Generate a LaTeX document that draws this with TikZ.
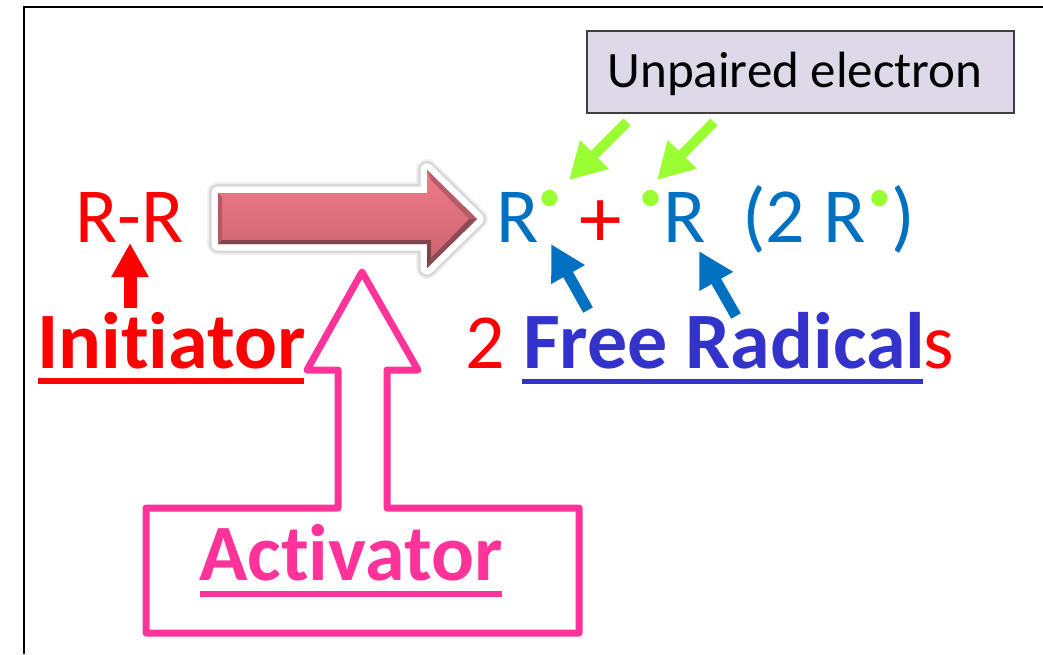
\documentclass[tikz,border=0pt]{standalone}
\usepackage{fontspec}
\setmainfont[Ligatures={TeX,CommonOff}]{Carlito}
\usepackage{xcolor}
\definecolor{InitiatorRed}{HTML}{FF0000}
\definecolor{ActivatorPink}{HTML}{FF3399}
\definecolor{RadicalBlue}{HTML}{0070C0}
\definecolor{FreeRadicalBlue}{HTML}{3333CC}
\definecolor{ElectronGreen}{HTML}{99FF33}
\definecolor{LabelFill}{HTML}{DFD8E8}
\definecolor{LabelBorder}{HTML}{3F3F3F}
\definecolor{BlockTop}{HTML}{F07A88}
\definecolor{BlockMid}{HTML}{C9646F}
\definecolor{BlockDark}{HTML}{7F444B}
\usetikzlibrary{arrows.meta}
\tikzset{
    formula/.style={anchor=base west, inner sep=0pt, font=\fontsize{78}{82}\selectfont},
    keyword/.style={anchor=base west, inner sep=0pt, font=\fontsize{80}{85}\selectfont\bfseries},
    electron/.style={anchor=center, inner sep=0pt, text=ElectronGreen, font=\fontsize{46}{50}\selectfont},
    greenpointer/.style={draw=ElectronGreen, line width=10pt, -{Triangle[length=36pt,width=38pt]}},
    bluepointer/.style={draw=RadicalBlue, line width=11pt, -{Triangle[length=35pt,width=36pt]}},
    redpointer/.style={draw=InitiatorRed, line width=13pt, -{Triangle[length=34pt,width=35pt]}}
}

\begin{document}
\begin{tikzpicture}[x=1pt, y=-1pt]
\useasboundingbox (0, 0) rectangle (1043, 654);

% frame
\draw[line width=2.5pt] (24, 654) -- (24, 7) -- (1043, 7);

% block arrow
\coordinate (T0) at (218, 193);
\coordinate (T1) at (427, 193);
\coordinate (T2) at (427, 170);
\coordinate (T3) at (477, 219);
\coordinate (T4) at (427, 268);
\coordinate (T5) at (427, 244);
\coordinate (T6) at (218, 244);
\draw[black, opacity=0.06, line width=22pt, line join=round, yshift=-4pt]
    (T0) -- (T1) -- (T2) -- (T3) -- (T4) -- (T5) -- (T6) -- cycle;
\draw[black, opacity=0.10, line width=18pt, line join=round, yshift=-4pt]
    (T0) -- (T1) -- (T2) -- (T3) -- (T4) -- (T5) -- (T6) -- cycle;
\draw[white, line width=13pt, line join=round]
    (T0) -- (T1) -- (T2) -- (T3) -- (T4) -- (T5) -- (T6) -- cycle;
\shade[top color=BlockTop, middle color=BlockMid, bottom color=BlockMid]
    (T0) -- (T1) -- (T2) -- (T3) -- (T4) -- (T5) -- (T6) -- cycle;
\fill[BlockDark] (T6) -- (222, 240) -- (431, 240) -- (431, 258) -- (T4) -- (T5) -- cycle;
\fill[BlockDark!80!BlockMid] (T4) -- (431, 258) -- (469, 219) -- (T3) -- cycle;
\fill[BlockMid!75!BlockDark] (T2) -- (431, 180) -- (469, 219) -- (T3) -- cycle;
\fill[BlockMid!70!BlockDark] (T0) -- (222, 197) -- (222, 240) -- (T6) -- cycle;

% hollow arrow with its box
\draw[draw=ActivatorPink, line width=7pt, line join=round]
    (146, 508) -- (338, 508) -- (338, 370) -- (307, 370) -- (362, 272)
    -- (418, 370) -- (387, 370) -- (387, 508) -- (579, 508)
    -- (579, 633) -- (146, 633) -- cycle;

% texts
\node[formula, text=InitiatorRed] (rr) at (75, 242) {R-R};
\node[keyword, text=InitiatorRed] (initiator) at (37, 368) {Initiator};
\node[keyword, text=ActivatorPink] (activator) at (199, 580) {Activator};
\node[formula, text=InitiatorRed] (two) at (465, 368) {2};
\node[keyword, text=FreeRadicalBlue] (radicals) at (523, 368) {Free Radical};
\node[formula, text=InitiatorRed, xshift=-2pt] (plural) at (radicals.base east) {s};

\node[formula, text=RadicalBlue] (leftR) at (496, 242) {R};
\node[formula, text=InitiatorRed, font=\fontsize{85}{90}\selectfont] (plus) at (579, 247) {+};
\node[formula, text=RadicalBlue] (rightR) at (663, 242) {R};
\node[formula, text=RadicalBlue] (sum) at (742, 242) {(2 R};
\node[formula, text=RadicalBlue] (sumclose) at (891, 242) {)};

\node[electron] (leftdot) at (550, 201) {•};
\node[electron] (rightdot) at (651, 201) {•};
\node[electron] (sumdot) at (880, 201) {•};

\node[draw=LabelBorder, fill=LabelFill, line width=2pt, minimum width=427pt, minimum height=82pt,
    inner sep=0pt] (labelbox) at (800.5, 72) {};
\node[anchor=base, inner sep=0pt, font=\fontsize{51}{54}\selectfont] (unpaired) at (795, 87) {Unpaired electron};

% underlines
\fill[InitiatorRed] (38, 378) rectangle (304, 384);
\fill[ActivatorPink] (200, 591) rectangle (502, 597);
\fill[FreeRadicalBlue] (522, 379) rectangle (923, 384);

% pointers
\coordinate (G1) at (627, 122);
\coordinate (G2) at (714, 122);
\coordinate (B1) at (588, 310);
\coordinate (B2) at (736, 316);
\coordinate (I1) at (130, 308);
\draw[greenpointer] (G1) -- (569, 180);
\draw[greenpointer] (G2) -- (657, 180);
\draw[bluepointer] (B1) -- (551, 244);
\draw[bluepointer] (B2) -- (699, 251);
\draw[redpointer] (I1) -- (130, 243);

\end{tikzpicture}
\end{document}
